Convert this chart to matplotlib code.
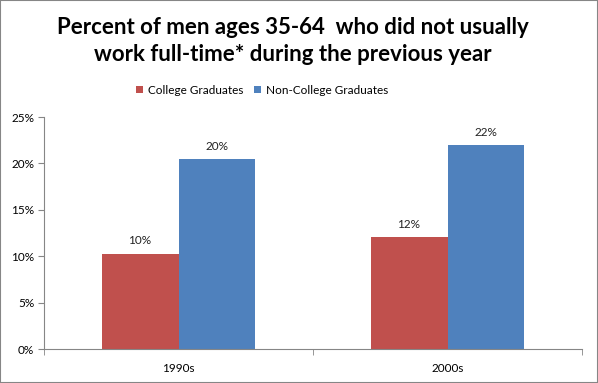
import numpy as np
import matplotlib.pyplot as plt
from matplotlib.patches import Rectangle

plt.rcParams['font.family'] = ['Lato', 'DejaVu Sans']

categories = ['1990s', '2000s']
series = ['College Graduates', 'Non-College Graduates']
college = [10.25, 12.07]
non_college = [20.47, 21.98]
labels_college = ['10%', '12%']
labels_non_college = ['20%', '22%']
colors = ['#C0504D', '#4F81BD']

fig = plt.figure(figsize=(5.98, 3.83), dpi=100)
ax = fig.add_axes([44 / 598, 1 - 349 / 383, (582 - 44) / 598, (349 - 117) / 383])

x = np.arange(len(categories))
w = 0.286
b1 = ax.bar(x - w / 2, college, w, color=colors[0], label=series[0])
b2 = ax.bar(x + w / 2, non_college, w, color=colors[1], label=series[1])

for bars, labs in ((b1, labels_college), (b2, labels_non_college)):
    for r, lab in zip(bars, labs):
        ax.text(r.get_x() + r.get_width() / 2, r.get_height() + 0.8, lab,
                ha='center', va='bottom', fontsize=8.5, color='#222222')

ax.set_xlim(-0.5, 1.5)
ax.set_ylim(0, 25)
ax.set_yticks(np.arange(0, 26, 5))
ax.set_yticklabels([f'{v}%' for v in range(0, 26, 5)], fontsize=8.5)
ax.set_xticks(x)
ax.set_xticklabels(categories, fontsize=8.5)
ax.tick_params(axis='x', length=0, pad=10)
ax.set_xticks([-0.5, 0.5, 1.5], minor=True)
ax.tick_params(axis='x', which='minor', length=4, color='#868686')
ax.tick_params(axis='y', length=4, color='#868686', pad=3)

for s in ('top', 'right'):
    ax.spines[s].set_visible(False)
for s in ('left', 'bottom'):
    ax.spines[s].set_color('#868686')

fig.text(293 / 598, 1 - 41 / 383,
         'Percent of men ages 35-64  who did not usually\nwork full-time* during the previous year',
         ha='center', va='center', fontsize=16, fontweight='bold', linespacing=1.4)

fig.legend(loc='center', bbox_to_anchor=(262 / 598, 1 - 90 / 383), ncol=2, frameon=False,
           fontsize=8.5, handlelength=0.6, handleheight=0.6, columnspacing=0.9,
           handletextpad=0.4)

fig.patches.append(Rectangle((0, 0), 1, 1, transform=fig.transFigure, fill=False,
                             edgecolor='#868686', linewidth=1.5))

fig.savefig('out.png', dpi=100)
